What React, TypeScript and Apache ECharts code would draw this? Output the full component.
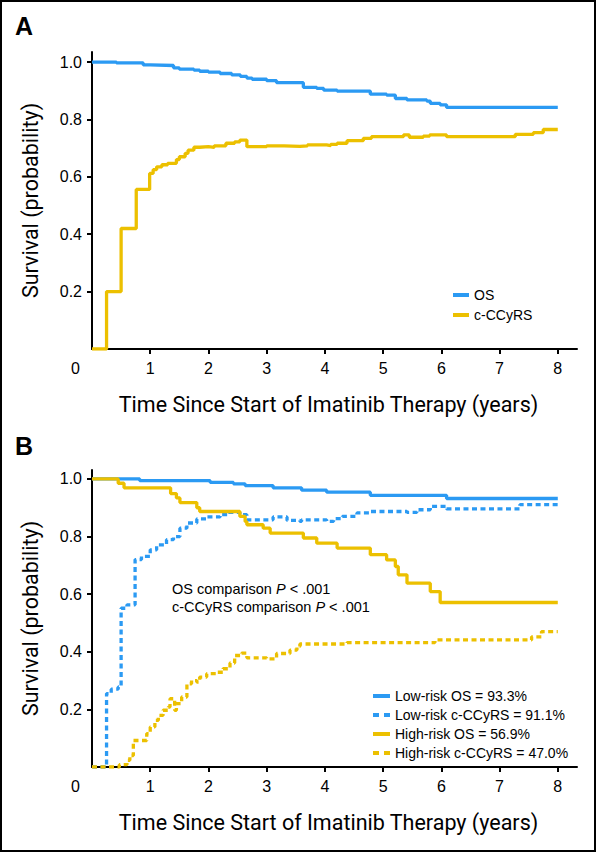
import React, { useEffect, useRef } from "react";
import * as echarts from "echarts";

const BLUE = "#2b9af3";
const YELLOW = "#ecc000";

const xTickValues = [1, 2, 3, 4, 5, 6, 7, 8];
const yTickValues = [0.2, 0.4, 0.6, 0.8, 1.0];

// Panel A
const osA: [number, number][] = [
  [0, 1.0], [0.42, 0.997], [0.88, 0.99], [1.0, 0.988], [1.4, 0.98], [1.5, 0.975],
  [1.75, 0.972], [1.85, 0.968], [2.0, 0.965], [2.2, 0.96], [2.4, 0.955], [2.55, 0.95],
  [2.66, 0.944], [2.75, 0.94], [3.0, 0.935], [3.17, 0.928], [3.63, 0.912], [3.86, 0.908],
  [3.98, 0.902], [4.21, 0.899], [4.78, 0.888], [5.06, 0.885], [5.21, 0.873], [5.41, 0.868],
  [5.75, 0.864], [5.81, 0.856], [5.98, 0.851], [6.09, 0.842], [8.0, 0.842],
];
const cA: [number, number][] = [
  [0, 0], [0.25, 0.2], [0.5, 0.42], [0.76, 0.556], [0.99, 0.612], [1.05, 0.625],
  [1.11, 0.635], [1.2, 0.642], [1.3, 0.647], [1.45, 0.66], [1.5, 0.67], [1.6, 0.682],
  [1.65, 0.693], [1.75, 0.703], [1.85, 0.705], [2.0, 0.703], [2.1, 0.708], [2.3, 0.717],
  [2.45, 0.722], [2.54, 0.728], [2.66, 0.705], [3.0, 0.708], [3.3, 0.706], [3.57, 0.708],
  [3.7, 0.711], [4.03, 0.709], [4.1, 0.713], [4.21, 0.717], [4.38, 0.726], [4.66, 0.734],
  [4.8, 0.74], [5.35, 0.746], [5.45, 0.738], [5.69, 0.742], [5.8, 0.746], [6.09, 0.74],
  [7.27, 0.748], [7.58, 0.754], [7.75, 0.765], [8.0, 0.765],
];

// Panel B
const lowOS: [number, number][] = [
  [0, 1], [0.82, 0.994], [2.03, 0.988], [2.43, 0.983], [2.63, 0.977], [3.11, 0.969],
  [3.6, 0.961], [4.03, 0.954], [4.78, 0.943], [6.09, 0.932], [8.0, 0.932],
];
const lowC: [number, number][] = [
  [0, 0], [0.25, 0.255], [0.33, 0.27], [0.45, 0.278], [0.5, 0.551], [0.6, 0.563],
  [0.74, 0.72], [0.85, 0.731], [1.0, 0.754], [1.11, 0.771], [1.28, 0.789], [1.4, 0.8],
  [1.51, 0.829], [1.63, 0.847], [1.8, 0.861], [1.97, 0.868], [2.2, 0.876], [2.37, 0.884],
  [2.54, 0.876], [2.66, 0.858], [3.11, 0.868], [3.35, 0.856], [3.57, 0.853], [3.6, 0.858],
  [4.03, 0.853], [4.15, 0.862], [4.3, 0.87], [4.55, 0.882], [4.78, 0.887], [5.41, 0.884],
  [5.58, 0.893], [5.81, 0.905], [6.09, 0.896], [7.35, 0.911], [8.0, 0.911],
];
const highOS: [number, number][] = [
  [0, 1], [0.45, 0.985], [0.55, 0.969], [1.35, 0.949], [1.45, 0.934], [1.51, 0.918],
  [1.8, 0.9], [1.85, 0.887], [2.54, 0.87], [2.63, 0.852], [2.66, 0.841], [2.94, 0.829],
  [3.06, 0.812], [3.63, 0.795], [3.86, 0.777], [4.21, 0.76], [4.78, 0.737], [5.06, 0.719],
  [5.21, 0.696], [5.26, 0.667], [5.41, 0.638], [5.81, 0.609], [5.98, 0.571], [8.0, 0.571],
];
const highC: [number, number][] = [
  [0, 0], [0.47, 0.008], [0.6, 0.023], [0.65, 0.04], [0.71, 0.092], [0.94, 0.116],
  [1.0, 0.139], [1.08, 0.162], [1.14, 0.179], [1.22, 0.197], [1.31, 0.208], [1.34, 0.237],
  [1.42, 0.197], [1.45, 0.22], [1.54, 0.243], [1.63, 0.289], [1.71, 0.3], [1.8, 0.295],
  [1.85, 0.312], [1.97, 0.324], [2.14, 0.329], [2.25, 0.341], [2.37, 0.361], [2.45, 0.387],
  [2.57, 0.395], [2.66, 0.379], [3.0, 0.375], [3.17, 0.394], [3.4, 0.406], [3.52, 0.418],
  [3.57, 0.427], [4.38, 0.432], [5.89, 0.441], [7.55, 0.452], [7.72, 0.47], [8.0, 0.47],
];

const legendA = ["OS", "c-CCyRS"];
const legendB = [
  "Low-risk OS = 93.3%",
  "Low-risk c-CCyRS = 91.1%",
  "High-risk OS = 56.9%",
  "High-risk c-CCyRS = 47.0%",
];

const FONT = "'Liberation Sans', Arial, sans-serif";
const TITLE_FONT = "Roboto, 'Liberation Sans', sans-serif";

function xAxisCfg(gridIndex: number) {
  return {
    type: "value",
    gridIndex,
    min: 0,
    max: 8.33,
    name: "Time Since Start of Imatinib Therapy (years)",
    nameLocation: "middle",
    nameGap: 44,
    nameTextStyle: { color: "#000", fontSize: 21.5, fontFamily: TITLE_FONT, padding: [0, 12, 0, 0] },
    axisLine: { lineStyle: { color: "#000", width: 2 } },
    axisTick: { length: 5, lineStyle: { color: "#000", width: 2 }, customValues: xTickValues },
    axisLabel: {
      color: "#000", fontSize: 16, fontFamily: FONT, margin: 11,
      customValues: xTickValues, formatter: (v: number) => String(v),
    },
    splitLine: { show: false },
  };
}
function yAxisCfg(gridIndex: number, max: number) {
  return {
    type: "value",
    gridIndex,
    min: 0,
    max,
    name: "Survival (probability)",
    nameLocation: "middle",
    nameGap: 51,
    nameTextStyle: { color: "#000", fontSize: 21.5, fontFamily: TITLE_FONT },
    axisLine: { lineStyle: { color: "#000", width: 2 } },
    axisTick: { length: 5, lineStyle: { color: "#000", width: 2 }, customValues: yTickValues },
    axisLabel: {
      color: "#000", fontSize: 16, fontFamily: FONT, margin: 10,
      customValues: yTickValues, formatter: (v: number) => v.toFixed(1),
    },
    splitLine: { show: false },
  };
}

function lineSeries(name: string, data: [number, number][], color: string, dashed: boolean, idx: number) {
  return {
    type: "line",
    name,
    data,
    xAxisIndex: idx,
    yAxisIndex: idx,
    step: "end",
    symbol: "none",
    color,
    lineStyle: { color, width: 3.3, type: dashed ? [5, 3.5] : "solid" },
  };
}

export default function App() {
  const ref = useRef<HTMLDivElement>(null);
  useEffect(() => {
    const chart = echarts.init(ref.current!, undefined, { renderer: "svg" });
    const annText = (y: number, label: string) => ({
      type: "text",
      left: 172,
      top: y,
      style: {
        text: `{n|${label} }{i|P}{n| < .001}`,
        rich: {
          n: { fontSize: 14.5, fontFamily: FONT, fill: "#000" },
          i: { fontSize: 14.5, fontFamily: FONT, fontStyle: "italic", fill: "#000" },
        },
      },
    });
    const legDashed = { type: [6, 5], width: 4 };
    chart.setOption({
      animation: false,
      backgroundColor: "#fff",
      grid: [
        { left: 92, right: 20, top: 52, bottom: 504 },
        { left: 92, right: 20, top: 470, bottom: 86 },
      ],
      xAxis: [xAxisCfg(0), xAxisCfg(1)],
      yAxis: [yAxisCfg(0, 1.035), yAxisCfg(1, 1.031)],
      legend: [
        {
          data: legendA, orient: "vertical", left: 446, top: 283,
          itemWidth: 16, itemHeight: 14, itemGap: 6, selectedMode: false,
          itemStyle: { opacity: 0 },
          lineStyle: { width: 4 },
          textStyle: { fontSize: 14, fontFamily: FONT, color: "#000" },
        },
        {
          data: [
            { name: legendB[0] },
            { name: legendB[1], lineStyle: legDashed },
            { name: legendB[2] },
            { name: legendB[3], lineStyle: legDashed },
          ],
          orient: "vertical", left: 366, top: 684,
          itemWidth: 17, itemHeight: 14, itemGap: 5, selectedMode: false,
          itemStyle: { opacity: 0 },
          lineStyle: { width: 4 },
          textStyle: { fontSize: 14, fontFamily: FONT, color: "#000" },
        },
      ],
      series: [
        lineSeries(legendA[0], osA, BLUE, false, 0),
        lineSeries(legendA[1], cA, YELLOW, false, 0),
        lineSeries(legendB[0], lowOS, BLUE, false, 1),
        lineSeries(legendB[1], lowC, BLUE, true, 1),
        lineSeries(legendB[2], highOS, YELLOW, false, 1),
        lineSeries(legendB[3], highC, YELLOW, true, 1),
      ],
      graphic: [
        {
          type: "rect", shape: { x: 1, y: 1, width: 594, height: 850 },
          style: { fill: "none", stroke: "#000", lineWidth: 2 }, silent: true,
        },
        { type: "text", left: 15, top: 13, style: { text: "A", fontSize: 25, fontWeight: "bold", fontFamily: FONT, fill: "#000" } },
        { type: "text", left: 15, top: 433, style: { text: "B", fontSize: 25, fontWeight: "bold", fontFamily: FONT, fill: "#000" } },
        { type: "text", left: 71, top: 360, style: { text: "0", fontSize: 16, fontFamily: FONT, fill: "#000" } },
        { type: "text", left: 71, top: 778, style: { text: "0", fontSize: 16, fontFamily: FONT, fill: "#000" } },
        annText(581, "OS comparison"),
        annText(599, "c-CCyRS comparison"),
      ],
    });
    return () => chart.dispose();
  }, []);
  return (
    <div
      ref={ref}
      style={{ position: "absolute", left: 0, top: 0, width: 597, height: 853 }}
    />
  );
}
